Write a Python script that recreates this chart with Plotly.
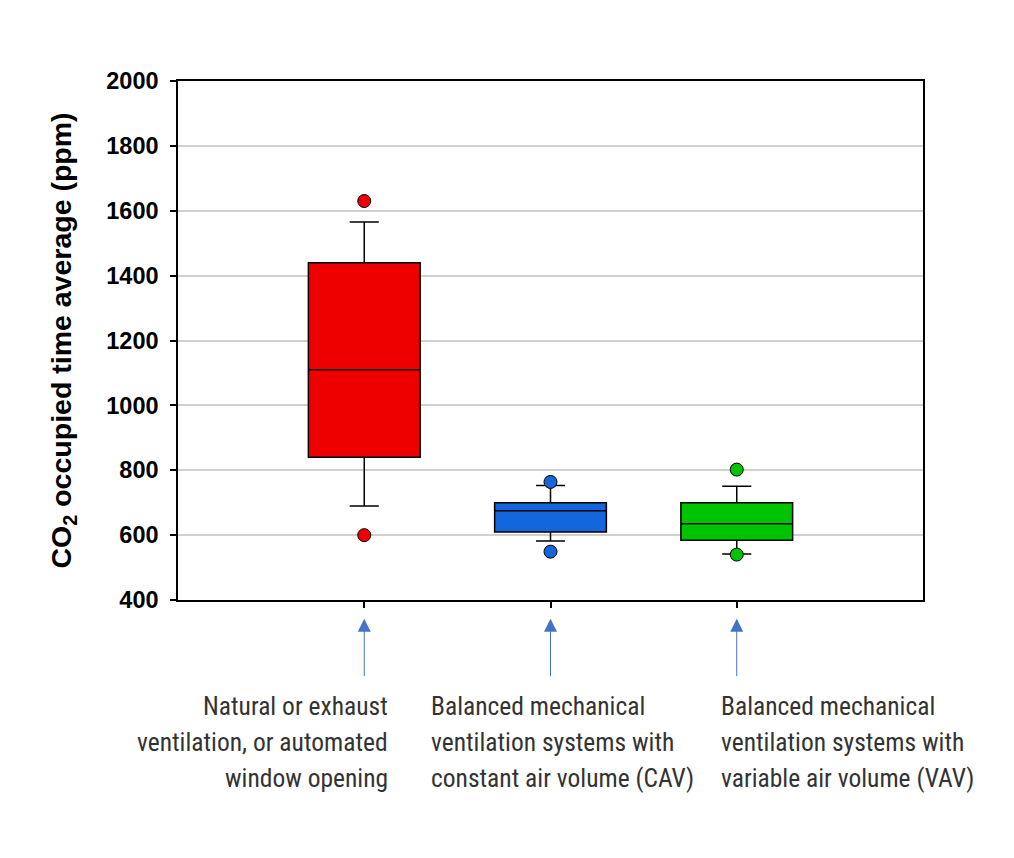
import plotly.graph_objects as go

# box statistics (ppm)
groups = ["natural", "cav", "vav"]
positions = [1, 2, 3]
q1 = [840, 610, 584]
median = [1110, 675, 635]
q3 = [1440, 700, 700]
lower_fence = [690, 582, 542]
upper_fence = [1565, 753, 751]
outliers = [[1630, 600], [764, 549], [802, 540]]
colors = ["#EE0000", "#1466DC", "#00C400"]

label_lines = [
    ["Natural or exhaust", "ventilation, or automated", "window opening"],
    ["Balanced mechanical", "ventilation systems with", "constant air volume (CAV)"],
    ["Balanced mechanical", "ventilation systems with", "variable air volume (VAV)"],
]
label_x = [0.2846, 0.337, 0.726]
label_anchor = ["right", "left", "left"]
line_y = [-0.2042, -0.2736, -0.343]

fig = go.Figure()
for i in range(len(groups)):
    fig.add_trace(go.Box(
        x=[positions[i]], q1=[q1[i]], median=[median[i]], q3=[q3[i]],
        lowerfence=[lower_fence[i]], upperfence=[upper_fence[i]],
        width=0.6, whiskerwidth=0.26,
        fillcolor=colors[i], line=dict(color="black", width=1.5),
        boxpoints=False, hoverinfo="skip",
    ))
    fig.add_scatter(
        x=[positions[i]] * len(outliers[i]), y=outliers[i], mode="markers",
        marker=dict(size=13, color=colors[i], line=dict(color="black", width=1)),
        cliponaxis=False,
    )

cond = "Roboto Condensed, DejaVu Sans Condensed, Liberation Sans Narrow, Roboto, sans-serif"
for i in range(len(groups)):
    # arrow pointing to the group
    fig.add_annotation(
        x=positions[i], y=-0.036, xref="x", yref="paper",
        ax=0, ay=59, axref="pixel", ayref="pixel",
        text="", showarrow=True, arrowhead=2, arrowsize=2.6, arrowwidth=1,
        arrowcolor="#4472C4",
    )
    for j, line in enumerate(label_lines[i]):
        fig.add_annotation(
            x=label_x[i], y=line_y[j], xref="paper", yref="paper",
            xanchor=label_anchor[i], yanchor="middle",
            text=line, showarrow=False,
            font=dict(family=cond, size=25.5, color="#333333"),
        )

fig.update_layout(
    width=1014, height=858,
    margin=dict(l=170, r=99, t=73, b=266),
    paper_bgcolor="white", plot_bgcolor="white",
    showlegend=False,
    font=dict(family="Liberation Sans, Arial, sans-serif", color="black"),
)
fig.update_xaxes(
    range=[0, 4], tickvals=positions, showticklabels=False,
    ticks="outside", ticklen=6, tickcolor="black", tickwidth=1.5,
    showline=True, linecolor="black", linewidth=1.5, mirror=True,
    showgrid=False, zeroline=False,
)
fig.update_yaxes(
    range=[400, 2000], dtick=200,
    ticks="outside", ticklen=6, tickcolor="black", tickwidth=1.5,
    tickfont=dict(size=23.5, weight="bold"), ticklabelstandoff=7,
    showline=True, linecolor="black", linewidth=1.5, mirror=True,
    showgrid=True, gridcolor="#D0D0D0", gridwidth=1.5, zeroline=False,
    title=dict(text="CO<sub>2</sub> occupied time average (ppm)",
               font=dict(size=28.5, weight="bold"), standoff=26),
)

fig.write_html("out.html")
